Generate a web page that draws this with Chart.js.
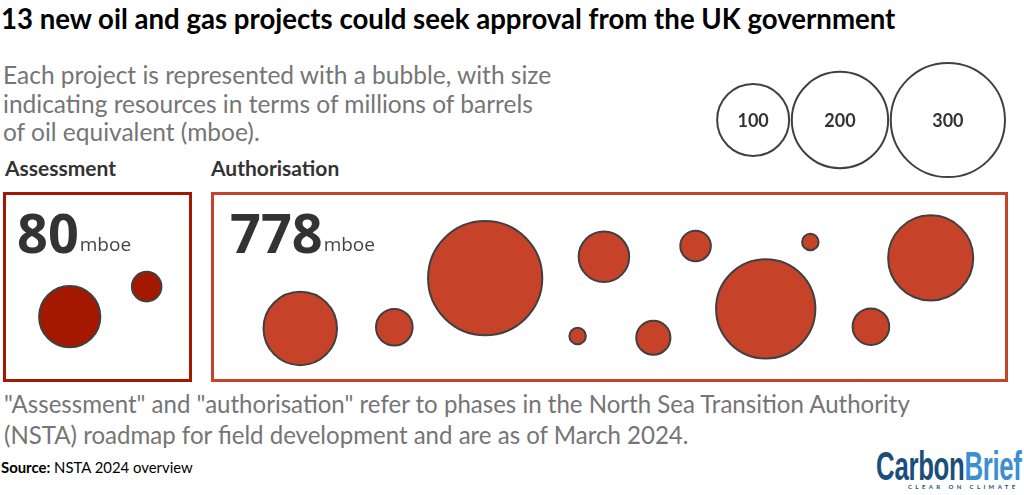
<!DOCTYPE html>
<html>
<head>
<meta charset="utf-8">
<title>UK oil and gas projects</title>
<script src="https://cdn.jsdelivr.net/npm/chart.js@4"></script>
<style>
  html, body { margin: 0; padding: 0; background: #fff; }
  body { position: relative; width: 1024px; height: 495px; overflow: hidden; font-family: Lato, sans-serif; }
  .txt { position: absolute; white-space: nowrap; }
  .title { left: 1px; top: 4px; font-size: 27.6px; line-height: 30px; font-weight: 700; color: #000; }
  .intro { left: 3px; top: 61px; font-size: 24.5px; line-height: 28.5px; color: #757575; }
  .head { top: 155px; font-size: 21px; line-height: 26px; font-weight: 700; color: #333; }
  .big { top: 197px; font-family: "Open Sans", sans-serif; font-size: 54px; line-height: 70px; font-weight: 700; color: #333; }
  .big small { position: relative; top: -2px; font-size: 19px; font-weight: 400; margin-left: 1px; color: #444; }
  .note { left: 4px; top: 388px; font-size: 24.05px; line-height: 31px; color: #757575; }
  .source { left: 1px; top: 458px; font-size: 14.9px; line-height: 18px; color: #000; }
  .panel { position: absolute; box-sizing: border-box; top: 192px; height: 190px; border: 3px solid; }
  canvas { position: absolute; }
  .bubble-label { position: absolute; transform: translate(-50%, -50%); font-size: 18px; font-weight: 700; color: #333; }
  .logo { right: 2px; top: 444px; font-family: "Liberation Sans", sans-serif; font-size: 40px; line-height: 44px; font-weight: 700; letter-spacing: -0.5px; color: #1b4f7a; transform: scaleX(0.645); transform-origin: right center; }
  .logo span { color: #3d8fd0; }
  .tag { left: 908px; top: 483px; font-size: 6px; line-height: 8px; font-weight: 700; letter-spacing: 3.4px; color: #1b4f7a; }
</style>
</head>
<body>
<div class="txt title">13 new oil and gas projects could seek approval from the UK government</div>
<div class="txt intro">Each project is represented with a bubble, with size<br>indicating resources in terms of millions of barrels<br>of oil equivalent (mboe).</div>
<div class="txt head" style="left:5px">Assessment</div>
<div class="txt head" style="left:211px">Authorisation</div>

<div class="panel" style="left:3px;width:189px;border-color:#a51800"></div>
<div class="panel" style="left:211px;width:797px;border-color:#c6432a"></div>

<canvas id="legendChart" width="324" height="140" style="left:700px;top:50px"></canvas>
<canvas id="assessChart" width="189" height="190" style="left:3px;top:192px"></canvas>
<canvas id="authChart" width="797" height="190" style="left:211px;top:192px"></canvas>

<div class="txt big" style="left:17px">80<small>mboe</small></div>
<div class="txt big" style="left:230px">778<small>mboe</small></div>

<div class="txt note">"Assessment" and "authorisation" refer to phases in the North Sea Transition Authority<br>(NSTA) roadmap for field development and are as of March 2024.</div>
<div class="txt source"><b>Source:</b> NSTA 2024 overview</div>
<div class="txt logo">Carbon<span>Brief</span></div>
<div class="txt tag">CLEAR ON CLIMATE</div>

<script>
// size key
const legendValues = [100, 200, 300];
const legendX = [16.4, 43.2, 76.5];
const legendY = [50, 50, 50];

// assessment phase, mboe
const assessValues = [68, 12];
const assessX = [35.3, 76.0];
const assessY = [34.4, 50.2];

// authorisation phase, mboe
const authValues = [105, 20, 300, 43, 13, 3, 149, 215, 20, 17, 3];
const authX = [11.2, 23.0, 34.4, 49.3, 60.8, 75.2, 90.3, 69.6, 82.8, 55.5, 46.0];
const authY = [28.2, 28.8, 54.7, 65.9, 71.6, 73.7, 65.3, 38.5, 29.1, 23.3, 24.2];

// bubble radius in px for a given mboe, fitted to the size key
function radius(v) {
  return 36 * Math.pow(v / 100, 0.42);
}

function bubbleChart(id, xs, ys, values, fill) {
  return new Chart(document.getElementById(id), {
    type: 'bubble',
    data: {
      datasets: [{
        data: values.map((v, i) => ({ x: xs[i], y: ys[i], r: radius(v) })),
        backgroundColor: fill,
        borderColor: '#404040',
        borderWidth: 2,
        hoverBorderWidth: 2
      }]
    },
    options: {
      responsive: false,
      animation: false,
      clip: false,
      layout: { padding: 0, autoPadding: false },
      plugins: { legend: { display: false }, tooltip: { enabled: false } },
      scales: {
        x: { display: false, min: 0, max: 100 },
        y: { display: false, min: 0, max: 100 }
      }
    }
  });
}

const legendChart = bubbleChart('legendChart', legendX, legendY, legendValues, 'rgba(255,255,255,0)');
bubbleChart('assessChart', assessX, assessY, assessValues, '#a51800');
bubbleChart('authChart', authX, authY, authValues, '#c6432a');

// key labels sit on the bubbles the library placed
legendChart.getDatasetMeta(0).data.forEach((pt, i) => {
  const span = document.createElement('span');
  span.className = 'bubble-label';
  span.textContent = legendValues[i];
  span.style.left = (700 + pt.x) + 'px';
  span.style.top = (50 + pt.y) + 'px';
  document.body.appendChild(span);
});
</script>
</body>
</html>
